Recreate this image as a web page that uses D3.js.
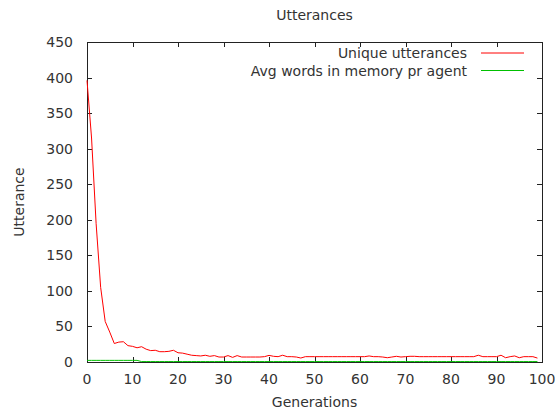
<!DOCTYPE html>
<html>
<head>
<meta charset="utf-8">
<script src="https://cdn.jsdelivr.net/npm/d3@7"></script>
<style>
  body { margin: 0; background: #fff; }
  svg text { font-family: "DejaVu Sans", sans-serif; fill: #333; }
</style>
</head>
<body>
<svg id="chart" width="555" height="412"></svg>
<script>
// data
const generations = d3.range(0, 100);
const uniqueUtterances = [
  396, 315, 195, 105, 57, 42, 26, 28, 28.5, 23,
  22, 20, 21.5, 18, 16, 16.5, 14.5, 14.5, 15, 16.5,
  13, 12.5, 11, 9.5, 9, 8.5, 9.5, 8, 9, 7,
  7, 9, 6.5, 9, 7, 7, 7, 7, 7, 7.5,
  9.3, 8, 7.5, 9.5, 7.5, 7.5, 7, 5.6, 7.5, 7.5,
  7.5, 7.5, 7.5, 7.5, 7.5, 7.5, 7.5, 7.5, 7.5, 7.5,
  7.5, 7.5, 8.5, 7.5, 7.5, 7, 6, 7, 8, 7,
  7.5, 8, 8, 7.5, 7.5, 7.5, 7.5, 7.5, 7.5, 7.5,
  7.5, 7.5, 7.5, 7.5, 7.5, 7.5, 9.5, 7.5, 7.5, 7.5,
  7.5, 9.5, 6, 7.5, 8.5, 6, 7.5, 7.5, 7.5, 5.5
];
const avgWords = [
  2.3, 2.3, 2.3, 2.3, 2.3, 2.3, 2.3, 2.3, 2.3, 2.3,
  2.3, 2.3, 0.6, 0.6, 0.6, 0.6, 0.6, 0.6, 0.6, 0.6,
  0.6, 0.6, 0.6, 0.6, 0.6, 0.6, 0.6, 0.6, 0.6, 0.6,
  0.6, 0.6, 0.6, 0.6, 0.6, 0.6, 0.6, 0.6, 0.6, 0.6,
  0.6, 0.6, 0.6, 0.6, 0.6, 0.6, 0.6, 0.6, 0.6, 0.6,
  0.6, 0.6, 0.6, 0.6, 0.6, 0.6, 0.6, 0.6, 0.6, 0.6,
  0.6, 0.6, 0.6, 0.6, 0.6, 0.6, 0.6, 0.6, 0.6, 0.6,
  0.6, 0.6, 0.6, 0.6, 0.6, 0.6, 0.6, 0.6, 0.6, 0.6,
  0.6, 0.6, 0.6, 0.6, 0.6, 0.6, 0.6, 0.6, 0.6, 0.6,
  0.6, 0.6, 0.6, 0.6, 0.6, 0.6, 0.6, 0.6, 0.6, 0.6
];
const seriesNames = ["Unique utterances", "Avg words in memory pr agent"];
const seriesColors = ["#ff0000", "#00c000"];
const xTicks = d3.range(0, 101, 10);
const yTicks = d3.range(0, 451, 50);

const svg = d3.select("#chart");
const plotL = 87, plotR = 542, plotT = 42, plotB = 362;
const fontSize = 14;

const x = d3.scaleLinear().domain([0, 100]).range([plotL, plotR]);
const y = d3.scaleLinear().domain([0, 450]).range([plotB, plotT]);

// title and axis labels
svg.append("text")
  .text("Utterances")
  .attr("x", (plotL + plotR) / 2)
  .attr("y", 20)
  .attr("text-anchor", "middle")
  .attr("font-size", fontSize);

svg.append("text")
  .text("Generations")
  .attr("x", (plotL + plotR) / 2)
  .attr("y", 407)
  .attr("text-anchor", "middle")
  .attr("font-size", fontSize);

svg.append("text")
  .text("Utterance")
  .attr("transform", `translate(24,${(plotT + plotB) / 2}) rotate(-90)`)
  .attr("text-anchor", "middle")
  .attr("font-size", fontSize);

// ticks on all four sides, pointing inward
const tickLen = 5;
const g = svg.append("g").attr("stroke", "#222").attr("stroke-width", 1);
xTicks.forEach(t => {
  const px = Math.round(x(t)) + 0.5;
  g.append("line").attr("x1", px).attr("x2", px).attr("y1", plotB).attr("y2", plotB - tickLen);
  g.append("line").attr("x1", px).attr("x2", px).attr("y1", plotT).attr("y2", plotT + tickLen);
});
yTicks.forEach(t => {
  const py = Math.round(y(t)) + 0.5;
  g.append("line").attr("x1", plotL).attr("x2", plotL + tickLen).attr("y1", py).attr("y2", py);
  g.append("line").attr("x1", plotR).attr("x2", plotR - tickLen).attr("y1", py).attr("y2", py);
});

svg.selectAll(".xlab")
  .data(xTicks)
  .join("text")
  .attr("class", "xlab")
  .text(d => d)
  .attr("x", d => x(d))
  .attr("y", 384)
  .attr("text-anchor", "middle")
  .attr("font-size", fontSize);

svg.selectAll(".ylab")
  .data(yTicks)
  .join("text")
  .attr("class", "ylab")
  .text(d => d)
  .attr("x", 73)
  .attr("y", d => y(d) + 5)
  .attr("text-anchor", "end")
  .attr("font-size", fontSize);

// border
svg.append("rect")
  .attr("x", plotL + 0.5).attr("y", plotT + 0.5)
  .attr("width", plotR - plotL).attr("height", plotB - plotT)
  .attr("fill", "none")
  .attr("stroke", "#222")
  .attr("stroke-width", 1);

// series lines
const line = d3.line()
  .x((d, i) => x(generations[i]))
  .y(d => y(d));

[uniqueUtterances, avgWords].forEach((vals, i) => {
  svg.append("path")
    .datum(vals)
    .attr("d", line)
    .attr("fill", "none")
    .attr("stroke", seriesColors[i])
    .attr("stroke-width", 1);
});

// legend
const legend = svg.append("g");
seriesNames.forEach((name, i) => {
  const ly = 53 + i * 17.5;
  legend.append("text")
    .text(name)
    .attr("x", 467)
    .attr("y", ly + 5)
    .attr("text-anchor", "end")
    .attr("font-size", fontSize);
  legend.append("line")
    .attr("x1", 481).attr("x2", 524)
    .attr("y1", ly).attr("y2", ly)
    .attr("stroke", seriesColors[i])
    .attr("stroke-width", 1);
});
</script>
</body>
</html>
